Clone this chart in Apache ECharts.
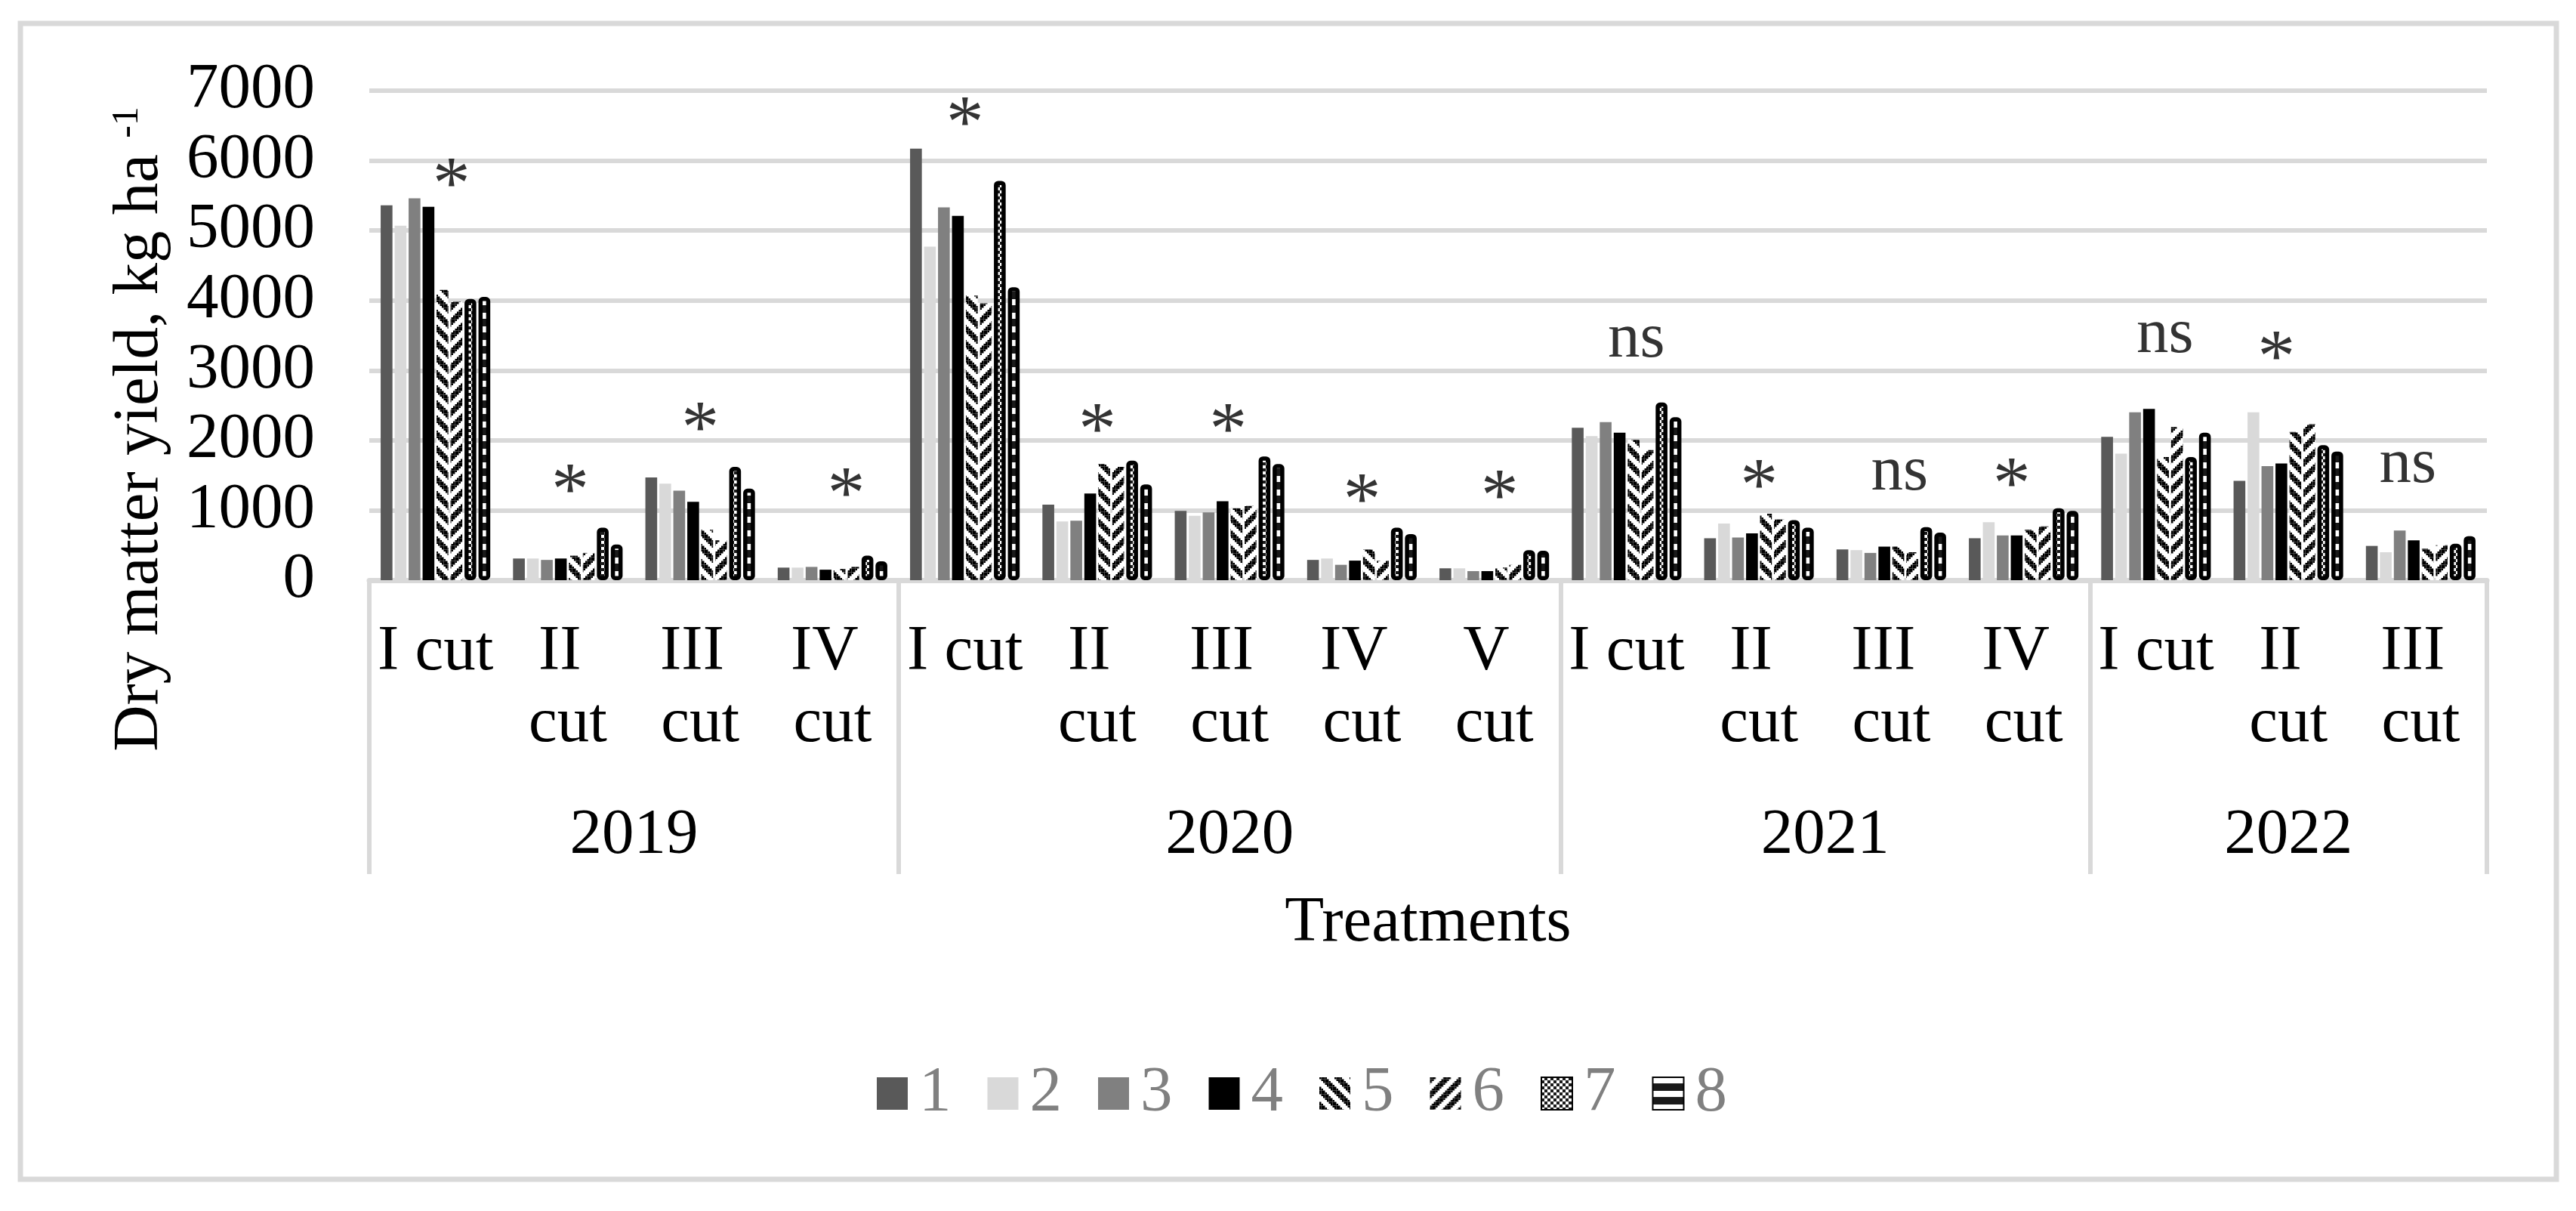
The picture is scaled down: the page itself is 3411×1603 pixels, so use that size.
<!DOCTYPE html>
<html><head><meta charset="utf-8">
<script src="https://cdn.jsdelivr.net/npm/echarts@6/dist/echarts.min.js"></script>
<style>html,body{margin:0;padding:0;background:#fff}#c{width:3411px;height:1603px}</style>
</head><body><div id="c"></div>
<script>
// ---------- data ----------
const years = ['2019', '2020', '2021', '2022'];
const cutsPerYear = [4, 5, 4, 3];
const categories = ['I cut', 'II cut', 'III cut', 'IV cut',
  'I cut', 'II cut', 'III cut', 'IV cut', 'V cut',
  'I cut', 'II cut', 'III cut', 'IV cut',
  'I cut', 'II cut', 'III cut'];
const treatmentNames = ['1', '2', '3', '4', '5', '6', '7', '8'];
const t1 = [5360, 310, 1470, 180, 6170, 1080, 990, 290, 170, 2180, 600, 440, 600, 2050, 1420, 490];
const t2 = [5070, 310, 1380, 180, 4770, 840, 920, 310, 170, 2060, 810, 430, 830, 1810, 2400, 400];
const t3 = [5460, 290, 1280, 190, 5330, 850, 970, 220, 130, 2260, 610, 390, 640, 2400, 1630, 710];
const t4 = [5340, 310, 1120, 150, 5210, 1240, 1130, 280, 130, 2110, 670, 480, 640, 2450, 1670, 570];
const t5 = [4150, 350, 720, 160, 4070, 1660, 1030, 440, 180, 2010, 950, 480, 720, 1760, 2120, 450];
const t6 = [3980, 390, 570, 190, 3960, 1620, 1060, 280, 220, 1860, 870, 400, 770, 2190, 2230, 500];
const t7 = [4020, 750, 1620, 350, 5710, 1710, 1770, 750, 430, 2540, 860, 760, 1030, 1760, 1930, 520];
const t8 = [4050, 510, 1310, 270, 4190, 1370, 1660, 660, 420, 2330, 750, 680, 990, 2110, 1840, 630];
const treatmentValues = [t1, t2, t3, t4, t5, t6, t7, t8];
// significance marks (text and the height, in kg ha-1, at which each is written)
const sigText = ['*', '*', '*', '*', '*', '*', '*', '*', '*', 'ns', '*', 'ns', '*', 'ns', '*', 'ns'];
const sigY = [5785, 1402, 2293, 1355, 6662, 2269, 2269, 1270, 1317, 3355, 1471, 1454, 1490, 3416, 3308, 1561];
const yMin = 0, yMax = 7000, yStep = 1000;

// ---------- styles ----------
const FONT = 'Liberation Serif';
const FS = 85;
const sigDx = [21, 3, 0, 18, 0, 0, -2, 0, 7, 13, 0, 11, -16, 12, -16, -17];

function tile(w, h, draw) {
  const c = document.createElement('canvas');
  c.width = w; c.height = h;
  const g = c.getContext('2d');
  draw(g, w, h);
  return c;
}
function diagPattern(down) {
  const n = 8, px = 2.5, s = n * px;
  return tile(s, s, (g) => {
    g.fillStyle = '#fff'; g.fillRect(0, 0, s, s);
    g.fillStyle = '#000';
    for (let r = 0; r < n; r++) {
      for (let k = 0; k < 4; k++) {
        const col = down ? (r + k) % n : (n - 1 - r + k) % n;
        g.fillRect(col * px, r * px, px, px);
      }
    }
  });
}
const pat5 = diagPattern(true);
const pat6 = diagPattern(false);
const pat7 = tile(8, 8, (g) => {
  g.fillStyle = '#1a1a1a'; g.fillRect(0, 0, 8, 8);
  g.fillStyle = '#fff'; g.fillRect(0, 0, 4, 4); g.fillRect(4, 4, 4, 4);
});
const pat8 = tile(10, 18, (g) => {
  g.fillStyle = '#fff'; g.fillRect(0, 0, 10, 18);
  g.fillStyle = '#1a1a1a'; g.fillRect(0, 8, 10, 10);
});
const fills = [
  { color: '#595959' },
  { color: '#d9d9d9' },
  { color: '#808080' },
  { color: '#000000' },
  { color: { image: pat5, repeat: 'repeat' } },
  { color: { image: pat6, repeat: 'repeat' } },
  { color: { image: pat7, repeat: 'repeat' }, borderColor: '#000', borderWidth: 5.5, borderRadius: 3 },
  { color: { image: pat8, repeat: 'repeat' }, borderColor: '#000', borderWidth: 5.5, borderRadius: 3 }
];

// year boundaries / centres in category units
const bounds = [0];
cutsPerYear.forEach((n) => bounds.push(bounds[bounds.length - 1] + n));
const centers = cutsPerYear.map((n, i) => bounds[i] + n / 2);

const chart = echarts.init(document.getElementById('c'));
const barSeries = treatmentNames.map((name, i) => ({
  name: name,
  type: 'bar',
  data: treatmentValues[i],
  barWidth: 15.6,
  barGap: '18.6%',
  itemStyle: fills[i]
}));
const sigSeries = {
  type: 'scatter',
  name: 'sig',
  xAxisIndex: 0,
  yAxisIndex: 0,
  symbolSize: 1,
  silent: true,
  z: 10,
  itemStyle: { color: 'rgba(0,0,0,0)' },
  label: {
    show: true, position: 'inside',
    formatter: (p) => sigText[p.dataIndex],
    fontSize: FS, fontFamily: FONT, color: '#000'
  },
  data: sigY.map((v, i) => ({
    value: [i, v],
    label: sigText[i] === '*'
      ? { offset: [sigDx[i], 16], fontSize: 100 }
      : { offset: [sigDx[i], -8] }
  }))
};

chart.setOption({
  backgroundColor: '#fff',
  animation: false,
  grid: { left: 489, right: 118, top: 120, bottom: 835, containLabel: false },
  legend: {
    data: treatmentNames,
    left: 1156, top: 1400,
    icon: 'rect',
    itemWidth: 41, itemHeight: 43, itemGap: 48,
    textStyle: { fontSize: FS, fontFamily: FONT, color: '#808080', lineHeight: 85, padding: [0, 0, 0, 10] }
  },
  xAxis: [
    {
      type: 'category',
      data: categories,
      axisLine: { lineStyle: { color: '#d9d9d9', width: 7 } },
      axisTick: { show: false },
      axisLabel: {
        interval: 0, margin: 48, fontSize: FS, lineHeight: 95, fontFamily: FONT, color: '#000',
        width: 172, overflow: 'break'
      },
      name: 'Treatments',
      nameLocation: 'middle',
      nameGap: 412,
      nameTextStyle: { fontSize: FS, fontFamily: FONT, color: '#000', lineHeight: 85 }
    },
    {
      type: 'value',
      min: 0, max: bounds[bounds.length - 1],
      position: 'bottom',
      offset: 389,
      axisLine: { show: false },
      splitLine: { show: false },
      axisTick: { show: true, inside: true, length: 389, customValues: bounds, lineStyle: { color: '#d9d9d9', width: 6 } },
      axisLabel: {
        show: true, inside: true, margin: 8, customValues: centers,
        formatter: (v) => years[centers.indexOf(v)],
        fontSize: FS, lineHeight: 85, fontFamily: FONT, color: '#000'
      }
    }
  ],
  yAxis: {
    type: 'value',
    min: yMin, max: yMax, interval: yStep,
    axisLine: { show: false },
    axisTick: { show: false },
    splitLine: { lineStyle: { color: '#d9d9d9', width: 6 } },
    axisLabel: { margin: 72, fontSize: FS, fontFamily: FONT, color: '#000', formatter: (v) => String(v) }
  },
  graphic: [
    {
      type: 'rect', silent: true, z: -1,
      shape: { x: 27, y: 31, width: 3358, height: 1530 },
      style: { fill: 'none', stroke: '#d9d9d9', lineWidth: 7 }
    },
    {
      type: 'text', x: 186, y: 568, rotation: Math.PI / 2, silent: true,
      style: {
        text: '{a|Dry matter yield, kg ha }{b|-1}',
        rich: {
          a: { fontSize: FS, fontFamily: FONT, fill: '#000' },
          b: { fontSize: 50, fontFamily: FONT, fill: '#000', verticalAlign: 'top' }
        },
        align: 'center', verticalAlign: 'middle'
      }
    }
  ],
  series: barSeries.concat([sigSeries])
});
</script>
</body></html>
